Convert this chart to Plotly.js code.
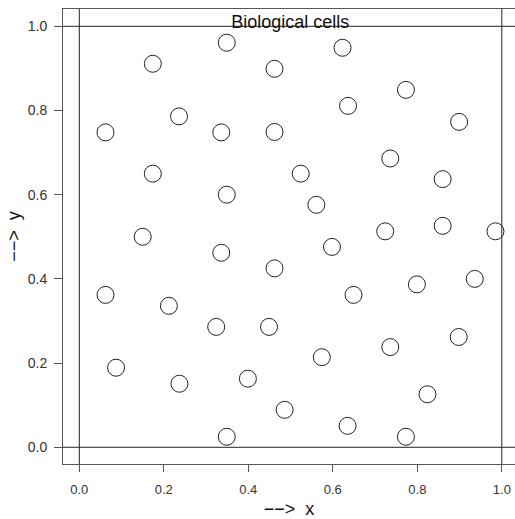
<!DOCTYPE html>
<html>
<head>
<meta charset="utf-8">
<script src="https://cdn.plot.ly/plotly-3.0.1.min.js"></script>
<style>html,body{margin:0;padding:0;background:#fff;}#chart{width:515px;height:519px;}</style>
</head>
<body>
<div id="chart"></div>
<script>
const cellX = [0.349, 0.174, 0.236, 0.062, 0.336, 0.174, 0.349, 0.150, 0.336,
  0.623, 0.462, 0.773, 0.636, 0.899, 0.462, 0.736, 0.524, 0.860, 0.561, 0.724, 0.860, 0.985, 0.598,
  0.062, 0.212, 0.324, 0.087, 0.237, 0.399, 0.349,
  0.462, 0.649, 0.799, 0.936, 0.449, 0.574, 0.736, 0.898, 0.824, 0.486, 0.635, 0.773];
const cellY = [0.961, 0.911, 0.786, 0.748, 0.748, 0.650, 0.600, 0.500, 0.462,
  0.949, 0.899, 0.849, 0.811, 0.773, 0.749, 0.686, 0.650, 0.637, 0.576, 0.513, 0.526, 0.513, 0.476,
  0.362, 0.336, 0.286, 0.189, 0.151, 0.163, 0.025,
  0.425, 0.362, 0.387, 0.400, 0.286, 0.214, 0.238, 0.262, 0.126, 0.089, 0.051, 0.025];
const refLines = [0, 1];
const tickVals = [0, 0.2, 0.4, 0.6, 0.8, 1.0];
const tickText = ['0.0', '0.2', '0.4', '0.6', '0.8', '1.0'];

const shapes = [];
refLines.forEach(v => {
  shapes.push({type: 'line', xref: 'x', yref: 'paper', x0: v, x1: v, y0: 0, y1: 1,
    line: {color: '#222', width: 1}});
  shapes.push({type: 'line', xref: 'paper', yref: 'y', x0: 0, x1: 1, y0: v, y1: v,
    line: {color: '#222', width: 1}});
});

const trace = {
  x: cellX, y: cellY, type: 'scatter', mode: 'markers',
  marker: {symbol: 'circle-open', size: 17, color: '#222', line: {width: 1, color: '#222'}},
  hoverinfo: 'x+y', showlegend: false
};

const font = {family: 'Liberation Sans, Arial, sans-serif', color: '#222'};
const layout = {
  width: 515, height: 519,
  margin: {l: 63, r: 0, t: 9, b: 55},
  paper_bgcolor: '#fff', plot_bgcolor: '#fff',
  font: font,
  title: {text: 'Biological cells', font: {family: font.family, size: 18, color: '#111'},
    xref: 'paper', x: 0.503, xanchor: 'center', yref: 'container', y: 1 - 27.5 / 519, yanchor: 'bottom', pad: {t: 0, b: 0}},
  xaxis: {range: [-0.0386, 1.0312], showgrid: false, zeroline: false,
    showline: true, mirror: true, linecolor: '#555', linewidth: 1,
    ticks: 'outside', ticklen: 7, tickcolor: '#555', tickvals: tickVals, ticktext: tickText,
    tickfont: {family: font.family, size: 13, color: '#333'}, ticklabelstandoff: 6,
    title: {text: '\u2212\u2212>\u00a0\u00a0x', font: {family: font.family, size: 18, color: '#111'}, standoff: 9}},
  yaxis: {range: [-0.0397, 1.0411], showgrid: false, zeroline: false,
    showline: true, mirror: false, linecolor: '#555', linewidth: 1,
    ticks: 'outside', ticklen: 8, tickcolor: '#555', tickvals: tickVals, ticktext: tickText,
    tickfont: {family: font.family, size: 14, color: '#333'}, ticklabelstandoff: 4,
    title: {text: '\u2212\u2212>\u00a0\u00a0y', font: {family: font.family, size: 18, color: '#111'}, standoff: 2}},
  shapes: shapes
};
Plotly.newPlot('chart', [trace], layout, {displayModeBar: false, staticPlot: true});
</script>
</body>
</html>
